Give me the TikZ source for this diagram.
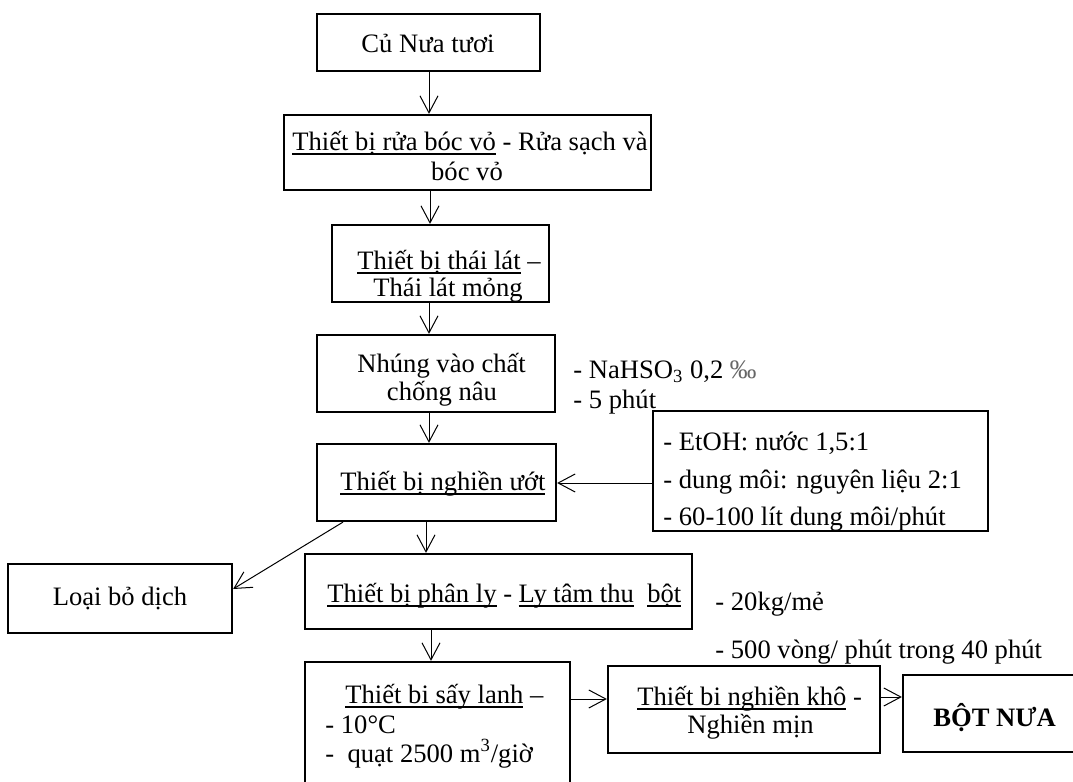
\documentclass[tikz,border=0pt]{standalone}
\usepackage{fontspec}
\setmainfont{Liberation Serif}
\usetikzlibrary{arrows.meta,fit}
\newcommand{\myul}[1]{\setbox0\hbox{#1}\rlap{\rule[-2.3pt]{\wd0}{0.65pt}}\box0\relax}
\begin{document}
\begin{tikzpicture}[x=0.5pt,y=-0.5pt,
  box/.style={draw,line width=1.1pt,inner sep=0pt,rectangle},
  txt/.style={inner sep=0pt,font=\fontsize{13.3pt}{14.5pt}\selectfont},
  arr/.style={line width=0.5pt,-{Straight Barb[length=8.5pt,width=9pt,line width=0.5pt]}}]
\useasboundingbox (0,0) rectangle (1073,782);
% boxes
\node[box,fit={(317,14)(540,71)}] (b1) {};
\node[box,fit={(284,115)(651,190)}] (b2) {};
\node[box,fit={(332,225)(549,302)}] (b3) {};
\node[box,fit={(317,335)(555,412)}] (b4) {};
\node[box,fit={(317,444)(556,521)}] (b5) {};
\node[box,fit={(653,411)(988,531)}] (sb) {};
\node[box,fit={(8,564)(232,633)}] (lb) {};
\node[box,fit={(305,554)(692,629)}] (b6) {};
\node[box,fit={(305,662)(570,800)}] (b7) {};
\node[box,fit={(608,666)(880,753)}] (b8) {};
\node[box,fit={(903,675)(1090,752)}] (b9) {};
% texts
\node[txt,anchor=base] (t1) at (428,52) {Củ Nưa tươi};
\node[txt,anchor=base west] (t2a) at (292,150) {\myul{Thiết bị rửa bóc vỏ} - Rửa sạch và};
\node[txt,anchor=base] (t2b) at (467,180) {bóc vỏ};
\node[txt,anchor=base west] (t3a) at (357,269) {\myul{Thiết bị thái lát} –};
\node[txt,anchor=base] (t3b) at (448,296) {Thái lát mỏng};
\node[txt,anchor=base west] (t4a) at (357,372) {Nhúng vào chất};
\node[txt,anchor=base] (t4b) at (442,400) {chống nâu};
\node[txt,anchor=base west] (t5) at (340,490) {\myul{Thiết bị nghiền ướt}};
\node[txt,anchor=base west] (s1a) at (573,378) {- NaHSO\textsubscript{3} 0,2 {\color{black!60}‰}};
\node[txt,anchor=base west] (s1b) at (573,408) {- 5 phút};
\node[txt,anchor=base west] (sba) at (663,450) {- EtOH: nước 1,5:1};
\node[txt,anchor=base west] (sbb) at (663,488) {- dung môi: nguyên liệu 2:1};
\node[txt,anchor=base west] (sbc) at (663,525) {- 60-100 lít dung môi/phút};
\node[txt,anchor=base] (tl) at (120,605) {Loại bỏ dịch};
\node[txt,anchor=base west] (t6) at (327,602) {\myul{Thiết bị phân ly} - \myul{Ly tâm thu}\ \ \myul{bột}};
\node[txt,anchor=base west] (t7a) at (345,703) {\myul{Thiết bi sấy lanh} –};
\node[txt,anchor=base west] (t7b) at (325,733) {- 10°C};
\node[txt,anchor=base west] (t7c) at (325,762) {-\ \ quạt 2500 m\textsuperscript{3}/giờ};
\node[txt,anchor=base west] (t8a) at (637,705) {\myul{Thiết bi nghiền khô} -};
\node[txt,anchor=base west] (t8b) at (687,733) {Nghiền mịn};
\node[txt,anchor=base west,font=\fontsize{13.3pt}{14.5pt}\selectfont\bfseries] (t9) at (933,726) {BỘT NƯA};
\node[txt,anchor=base west] (s2a) at (715,610) {- 20kg/mẻ};
\node[txt,anchor=base west] (s2b) at (715,658) {- 500 vòng/ phút trong 40 phút};
% connector guides
\coordinate (x1) at (429,0);
\coordinate (x2) at (430,0);
\coordinate (x3) at (429,0);
\coordinate (x4) at (429,0);
\coordinate (x5) at (426,0);
\coordinate (x6) at (431,0);
\coordinate (xd) at (343,0);
\coordinate (yd) at (0,589);
\coordinate (ys) at (0,483);
\coordinate (y7) at (0,699);
\coordinate (y8) at (0,697);
% connectors
\draw[arr] (b1.south -| x1) -- (b2.north -| x1);
\draw[arr] (b2.south -| x2) -- (b3.north -| x2);
\draw[arr] (b3.south -| x3) -- (b4.north -| x3);
\draw[arr] (b4.south -| x4) -- (b5.north -| x4);
\draw[arr] (sb.west |- ys) -- (b5.east |- ys);
\draw[arr] (b5.south -| xd) -- (lb.east |- yd);
\draw[arr] (b5.south -| x5) -- (b6.north -| x5);
\draw[arr] (b6.south -| x6) -- (b7.north -| x6);
\draw[arr] (b7.east |- y7) -- (b8.west |- y7);
\draw[arr] (b8.east |- y8) -- (b9.west |- y8);
\end{tikzpicture}
\end{document}
